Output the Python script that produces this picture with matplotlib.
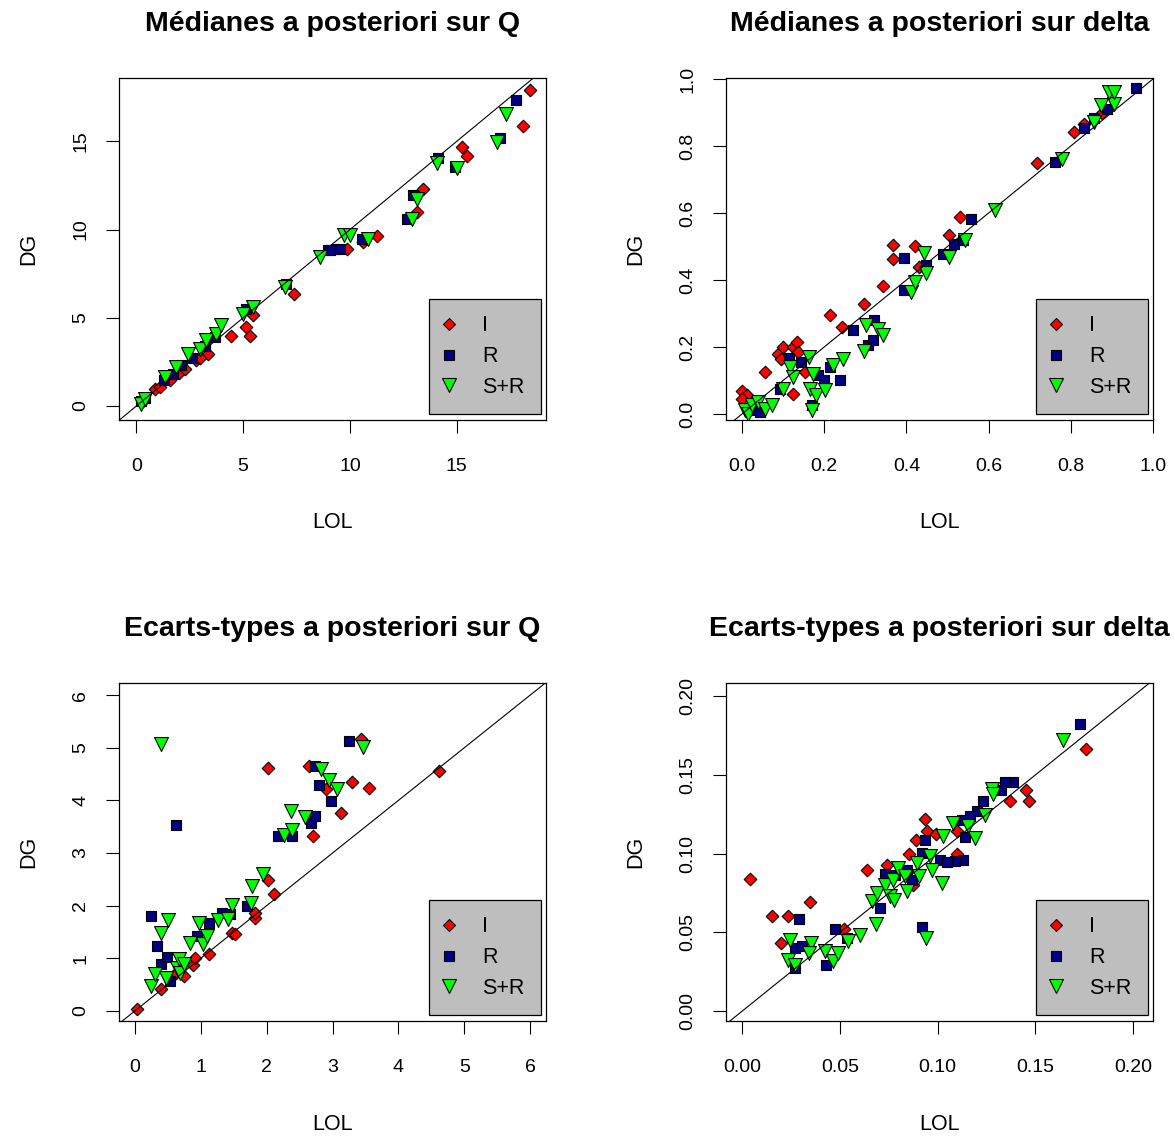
import matplotlib
matplotlib.use("Agg")
import matplotlib.pyplot as plt
from matplotlib.lines import Line2D

plt.rcParams['font.family'] = ['Liberation Sans', 'DejaVu Sans']

# ---------------- data ----------------
# Panel 1: Médianes a posteriori sur Q
q_med_I_x = [0.3, 0.86, 1.1, 1.6, 2.0, 2.3, 2.8, 3.36, 3.0, 4.45, 5.15, 5.3, 5.46, 7.4, 9.85, 10.63, 11.25, 13.13, 13.4, 15.23, 15.47, 18.09, 18.43]
q_med_I_y = [0.3, 0.98, 1.1, 1.5, 1.9, 2.1, 2.6, 2.97, 2.7, 3.95, 4.48, 3.95, 5.14, 6.37, 8.92, 9.3, 9.62, 11.0, 12.32, 14.68, 14.15, 15.87, 17.93]
q_med_R_x = [0.2, 0.4, 1.3, 1.7, 2.1, 2.6, 3.2, 3.7, 5.15, 7.0, 8.97, 9.36, 9.07, 9.54, 10.55, 12.66, 12.97, 14.14, 14.92, 17.03, 17.76]
q_med_R_y = [0.3, 0.45, 1.5, 1.8, 2.3, 2.7, 3.4, 3.9, 5.5, 6.93, 8.83, 8.92, 8.83, 8.92, 9.48, 10.62, 11.94, 14.06, 13.55, 15.2, 17.33]
q_med_SR_x = [0.2, 0.4, 1.33, 1.87, 2.42, 2.97, 3.28, 3.75, 3.98, 5.0, 5.46, 6.95, 8.59, 9.7, 10.0, 10.86, 12.9, 13.13, 14.06, 15.0, 16.87, 17.3]
q_med_SR_y = [0.1, 0.4, 1.64, 2.2, 2.97, 3.25, 3.72, 4.1, 4.57, 5.23, 5.6, 6.75, 8.45, 9.68, 9.68, 9.48, 10.62, 11.75, 13.78, 13.5, 14.97, 16.57]

# Panel 2: Médianes a posteriori sur delta
d_med_I_x = [0.0, 0.011, 0.0, 0.056, 0.087, 0.096, 0.1, 0.124, 0.134, 0.137, 0.124, 0.153, 0.213, 0.243, 0.296, 0.344, 0.367, 0.367, 0.422, 0.431, 0.504, 0.53, 0.718, 0.807, 0.833, 0.876]
d_med_I_y = [0.068, 0.056, 0.046, 0.125, 0.178, 0.165, 0.2, 0.2, 0.215, 0.185, 0.06, 0.125, 0.296, 0.26, 0.327, 0.382, 0.505, 0.464, 0.5, 0.44, 0.533, 0.588, 0.749, 0.842, 0.867, 0.899]
d_med_R_x = [0.032, 0.044, 0.092, 0.115, 0.143, 0.17, 0.185, 0.2, 0.213, 0.238, 0.27, 0.306, 0.318, 0.322, 0.395, 0.395, 0.448, 0.488, 0.516, 0.537, 0.557, 0.761, 0.832, 0.856, 0.888, 0.959]
d_med_R_y = [0.011, 0.006, 0.075, 0.167, 0.155, 0.026, 0.115, 0.102, 0.14, 0.102, 0.25, 0.205, 0.22, 0.281, 0.466, 0.369, 0.445, 0.478, 0.508, 0.518, 0.583, 0.752, 0.854, 0.884, 0.911, 0.974]
d_med_SR_x = [0.007, 0.015, 0.024, 0.04, 0.056, 0.072, 0.1, 0.116, 0.124, 0.162, 0.165, 0.17, 0.173, 0.181, 0.201, 0.221, 0.246, 0.298, 0.302, 0.33, 0.343, 0.41, 0.42, 0.444, 0.448, 0.504, 0.543, 0.616, 0.779, 0.856, 0.873, 0.906, 0.892, 0.906]
d_med_SR_y = [0.011, 0.001, 0.026, 0.036, 0.016, 0.026, 0.075, 0.14, 0.11, 0.17, 0.075, 0.011, 0.12, 0.056, 0.071, 0.145, 0.165, 0.188, 0.265, 0.253, 0.235, 0.364, 0.394, 0.48, 0.42, 0.469, 0.518, 0.608, 0.762, 0.872, 0.921, 0.926, 0.961, 0.961]

# Panel 3: Ecarts-types a posteriori sur Q
q_sd_I_x = [0.04, 0.39, 0.63, 0.74, 0.89, 0.91, 1.13, 1.47, 1.52, 1.82, 1.83, 2.02, 2.11, 2.71, 2.02, 2.64, 2.9, 3.13, 3.3, 3.55, 3.43, 4.61]
q_sd_I_y = [0.04, 0.41, 0.72, 0.67, 0.87, 1.01, 1.08, 1.48, 1.46, 1.76, 1.87, 2.48, 2.22, 3.32, 4.62, 4.65, 4.21, 3.76, 4.35, 4.23, 5.16, 4.55]
q_sd_R_x = [0.24, 0.34, 0.39, 0.49, 0.54, 0.62, 0.94, 1.12, 1.32, 1.45, 1.7, 2.18, 2.38, 2.67, 2.73, 2.74, 2.8, 2.97, 3.25]
q_sd_R_y = [1.81, 1.24, 0.89, 1.03, 0.57, 3.54, 1.43, 1.68, 1.87, 1.84, 1.99, 3.32, 3.33, 3.57, 3.71, 4.65, 4.29, 3.98, 5.13]
q_sd_SR_x = [0.24, 0.3, 0.39, 0.4, 0.47, 0.51, 0.64, 0.67, 0.69, 0.74, 0.84, 0.97, 1.03, 1.1, 1.26, 1.42, 1.47, 1.77, 1.78, 1.94, 2.27, 2.38, 2.37, 2.58, 2.83, 2.95, 3.07, 3.47]
q_sd_SR_y = [0.48, 0.7, 5.08, 1.49, 0.63, 1.73, 0.82, 0.98, 0.73, 0.89, 1.3, 1.68, 1.27, 1.43, 1.73, 1.74, 2.01, 2.05, 2.38, 2.6, 3.34, 3.43, 3.79, 3.68, 4.59, 4.38, 4.22, 5.01]

# Panel 4: Ecarts-types a posteriori sur delta
d_sd_I_x = [0.0041, 0.0152, 0.0237, 0.0348, 0.020, 0.0522, 0.0641, 0.0743, 0.0876, 0.0854, 0.089, 0.0936, 0.0945, 0.0991, 0.1758, 0.1453, 0.1371, 0.147, 0.1098, 0.1098]
d_sd_I_y = [0.084, 0.0603, 0.0603, 0.0694, 0.0434, 0.0523, 0.0899, 0.0927, 0.0804, 0.1001, 0.1086, 0.1221, 0.1143, 0.1128, 0.1667, 0.1403, 0.1333, 0.1333, 0.1143, 0.1001]
d_sd_R_x = [0.0292, 0.0271, 0.0305, 0.0476, 0.043, 0.0536, 0.0706, 0.0731, 0.0783, 0.0842, 0.0868, 0.0919, 0.0936, 0.0919, 0.1013, 0.1729, 0.1385, 0.1345, 0.1325, 0.1234, 0.12, 0.1166, 0.1124, 0.1141, 0.1132, 0.109, 0.1047, 0.0271]
d_sd_R_y = [0.0588, 0.0402, 0.0413, 0.0523, 0.0296, 0.0465, 0.0656, 0.0874, 0.0867, 0.0899, 0.0836, 0.1005, 0.1086, 0.0533, 0.0963, 0.1826, 0.1454, 0.1454, 0.1403, 0.1333, 0.127, 0.1238, 0.1217, 0.1107, 0.0963, 0.0952, 0.0948, 0.0275]
d_sd_SR_x = [0.0246, 0.0237, 0.0271, 0.0353, 0.0343, 0.0425, 0.0467, 0.0493, 0.0541, 0.0604, 0.0684, 0.0663, 0.0689, 0.0731, 0.0757, 0.0779, 0.0774, 0.0796, 0.0834, 0.0842, 0.0894, 0.0907, 0.0962, 0.097, 0.094, 0.103, 0.1021, 0.164, 0.1277, 0.1285, 0.1243, 0.1081, 0.1158, 0.1192]
d_sd_SR_y = [0.0455, 0.0328, 0.0296, 0.0434, 0.037, 0.0381, 0.0317, 0.037, 0.0444, 0.0486, 0.0556, 0.0698, 0.0751, 0.0804, 0.073, 0.0709, 0.0836, 0.091, 0.0861, 0.0762, 0.0942, 0.0857, 0.0988, 0.0899, 0.0465, 0.1111, 0.0815, 0.1724, 0.1411, 0.1382, 0.1248, 0.1196, 0.1175, 0.11]

titles = ["Médianes a posteriori sur Q", "Médianes a posteriori sur delta",
          "Ecarts-types a posteriori sur Q", "Ecarts-types a posteriori sur delta"]
xlabel = "LOL"
ylabel = "DG"
legend_labels = ["I", "R", "S+R"]

ticks_p1 = [0, 5, 10, 15]
ticks_p2 = [0.0, 0.2, 0.4, 0.6, 0.8, 1.0]
ticks_p3 = [0, 1, 2, 3, 4, 5, 6]
ticks_p4 = [0.00, 0.05, 0.10, 0.15, 0.20]
fmt_p1 = "{:.0f}"
fmt_p2 = "{:.1f}"
fmt_p3 = "{:.0f}"
fmt_p4 = "{:.2f}"

panels = [
    dict(I=(q_med_I_x, q_med_I_y), R=(q_med_R_x, q_med_R_y), SR=(q_med_SR_x, q_med_SR_y),
         xlim=(-0.81, 19.18), ylim=(-0.79, 18.59), ticks=ticks_p1, fmt=fmt_p1),
    dict(I=(d_med_I_x, d_med_I_y), R=(d_med_R_x, d_med_R_y), SR=(d_med_SR_x, d_med_SR_y),
         xlim=(-0.039, 0.996), ylim=(-0.018, 1.003), ticks=ticks_p2, fmt=fmt_p2),
    dict(I=(q_sd_I_x, q_sd_I_y), R=(q_sd_R_x, q_sd_R_y), SR=(q_sd_SR_x, q_sd_SR_y),
         xlim=(-0.24, 6.24), ylim=(-0.19, 6.23), ticks=ticks_p3, fmt=fmt_p3),
    dict(I=(d_sd_I_x, d_sd_I_y), R=(d_sd_R_x, d_sd_R_y), SR=(d_sd_SR_x, d_sd_SR_y),
         xlim=(-0.0082, 0.2102), ylim=(-0.0062, 0.2084), ticks=ticks_p4, fmt=fmt_p4),
]

# ---------------- figure ----------------
W, H = 1175, 1143
fig = plt.figure(figsize=(W / 100, H / 100), dpi=100)
fig.patch.set_facecolor("white")

# axes boxes in pixels: left, right, top, bottom
boxes = [(119, 546, 78, 420), (726, 1153, 78, 420),
         (119, 546, 683, 1021), (726, 1153, 683, 1021)]

RED, NAVY, GREEN = "#FF0000", "#000080", "#00FF00"
styles = {"I": dict(marker="D", color=RED, ms=6.4),
          "R": dict(marker="s", color=NAVY, ms=7.5),
          "SR": dict(marker="v", color=GREEN, ms=10.0)}

for (l, r, t, b), p, title in zip(boxes, panels, titles):
    ax = fig.add_axes([l / W, 1 - b / H, (r - l) / W, (b - t) / H])
    wpx, hpx = r - l, b - t
    for key in ["I", "R", "SR"]:
        st = styles[key]
        xs, ys = p[key]
        ax.scatter(xs, ys, marker=st["marker"], s=st["ms"] ** 2, facecolor=st["color"],
                   edgecolor="black", linewidths=0.8, zorder=2)
    ax.axline((0, 0), slope=1, color="black", lw=0.8, zorder=3)
    ax.set_xlim(*p["xlim"])
    ax.set_ylim(*p["ylim"])
    ax.set_xticks(p["ticks"])
    ax.set_yticks(p["ticks"])
    ax.set_xticklabels([p["fmt"].format(v) for v in p["ticks"]])
    ax.set_yticklabels([p["fmt"].format(v) for v in p["ticks"]])
    ax.tick_params(axis="both", direction="out", length=9.5, width=0.8, labelsize=14, colors="black")
    ax.tick_params(axis="x", pad=18)
    ax.tick_params(axis="y", pad=12)
    for lab in ax.get_yticklabels():
        lab.set_rotation(90)
        lab.set_va("center")
    for sp in ax.spines.values():
        sp.set_linewidth(0.9)
        sp.set_color("black")
    ax.set_xlabel(xlabel, fontsize=15.5, ha="center", va="center")
    ax.xaxis.set_label_coords(0.5, -103 / hpx)
    ax.set_ylabel(ylabel, fontsize=15.5, ha="center", va="center")
    ax.yaxis.set_label_coords(-90 / wpx, 0.5)
    ax.text(0.5, 1 + 54 / hpx, title, transform=ax.transAxes, ha="center", va="center",
            fontsize=20.5, fontweight="bold")

    handles = [Line2D([], [], linestyle="none", marker=styles[k]["marker"],
                      markersize=styles[k]["ms"], markerfacecolor=styles[k]["color"],
                      markeredgecolor="black", markeredgewidth=0.8) for k in ["I", "R", "SR"]]
    leg = ax.legend(handles, legend_labels, loc="lower right",
                    bbox_to_anchor=(1 - 5 / wpx, 6 / hpx), borderaxespad=0,
                    fontsize=15.5, frameon=True, fancybox=False, framealpha=1,
                    facecolor="#BEBEBE", edgecolor="black", borderpad=0.75,
                    handlelength=0.4, handletextpad=1.35, labelspacing=0.45)
    leg.get_frame().set_linewidth(0.9)
    leg.set_zorder(5)

fig.savefig("out.png", dpi=100, facecolor="white")
